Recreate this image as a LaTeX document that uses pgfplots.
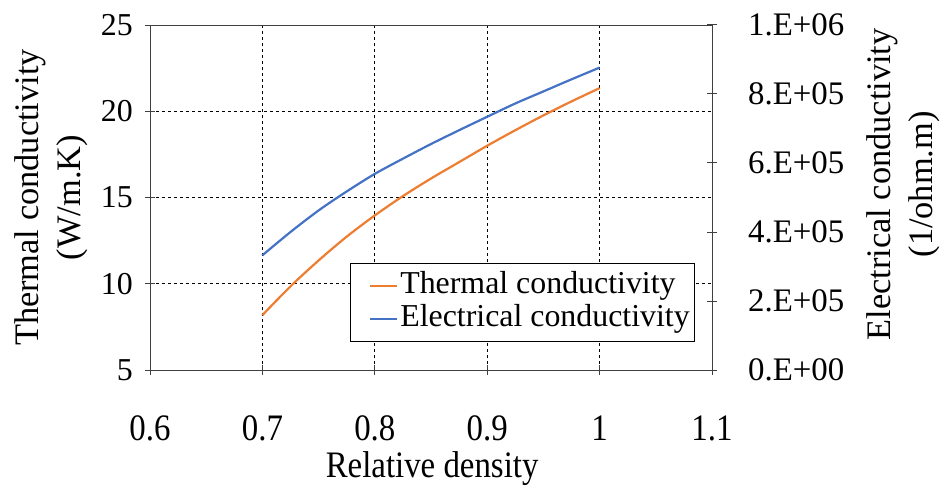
\documentclass[border=0pt]{standalone}
\usepackage{pgfplots}
\pgfplotsset{compat=1.18}
\usepackage{fontspec}
\setmainfont{Liberation Serif}
\newfontfamily\xfam[FakeStretch=0.88]{Liberation Serif}
\definecolor{orng}{HTML}{ED7D31}
\definecolor{blu}{HTML}{4472C4}
\definecolor{axgray}{HTML}{404040}
\newcommand{\xf}{\xfam\fontsize{37.5}{44}\selectfont}
\newcommand{\ylf}{\fontsize{32}{38}\selectfont}
\newcommand{\yrf}{\fontsize{33}{38}\selectfont}
\newcommand{\lf}{\fontsize{34.5}{42}\selectfont}
\newcommand{\gf}{\fontsize{32}{33}\selectfont}
\begin{document}
\begin{tikzpicture}
\useasboundingbox (-150bp,-122bp) rectangle (796bp,370bp);
\pgfplotsset{every axis/.append style={scale only axis, width=562bp, height=345bp,
  at={(0,0)}, anchor=south west, xmin=0.6, xmax=1.1,
  tick align=center, major tick length=10bp,
  axis line style={axgray, line width=1pt}, tick style={axgray, line width=1pt},
  /pgf/number format/assume math mode=true}}
\begin{axis}[
  ymin=5, ymax=25, ytick={5,10,15,20,25},
  xtick={0.6,0.7,0.8,0.9,1.0,1.1},
  xticklabels={0.6,0.7,0.8,0.9,1,1.1},
  xtick pos=bottom, ytick pos=left,
  grid=major, grid style={black, line width=0.9pt, dash pattern=on 3bp off 3bp},
  xticklabel style={font=\xf, anchor=center, inner sep=0pt, yshift=-53bp},
  yticklabel style={font=\ylf, anchor=east, inner sep=0pt, xshift=-12bp},
  xlabel={Relative density},
  xlabel style={font=\xf, at={(axis description cs:0.502,-0.287)}, anchor=center, inner sep=0pt},
  ylabel={Thermal conductivity\\(W/m.K)},
  ylabel style={font=\lf, align=center, at={(axis description cs:-0.176,0.5)}, anchor=center, inner sep=0pt},
  legend style={draw=black, line width=0.8pt, at={(0.970,0.081)}, anchor=south east, font=\gf,
    inner xsep=3bp, inner ysep=6bp, row sep=0bp,
    nodes={inner sep=2bp, text height=22bp, text depth=7bp}},
  legend cell align=left,
  legend image code/.code={\path (-16bp,0bp); \draw[#1] (0bp,0bp) -- (27bp,0bp);},
]
\addlegendimage{orng, line width=2.2bp}
\addlegendentry{Thermal conductivity}
\addlegendimage{blu, line width=2.2bp}
\addlegendentry{Electrical conductivity}
\addplot[orng, line width=2.2bp, smooth, forget plot] coordinates {
(0.700,8.18) (0.725,9.85) (0.750,11.35) (0.775,12.73) (0.800,13.96)
(0.825,15.08) (0.850,16.10) (0.875,17.05) (0.900,18.00) (0.925,18.90)
(0.950,19.76) (0.975,20.57) (1.000,21.34)};
\end{axis}
\begin{axis}[
  ymin=0, ymax=1000000,
  axis x line=none, axis y line*=right,
  ytick={0,200000,400000,600000,800000,1000000},
  yticklabels={0.E+00,2.E+05,4.E+05,6.E+05,8.E+05,1.E+06},
  scaled y ticks=false,
  yticklabel style={font=\yrf, anchor=west, inner sep=0pt, xshift=31bp},
  ylabel={Electrical conductivity\\(1/ohm.m)},
  ylabel style={font=\lf, align=center, at={(axis description cs:1.340,0.538)}, anchor=center, inner sep=0pt},
]
\addplot[blu, line width=2.2bp, smooth] coordinates {
(0.700,332500) (0.725,400000) (0.750,462500) (0.775,517500) (0.800,568500)
(0.825,612500) (0.850,655000) (0.875,695000) (0.900,734000) (0.925,772500)
(0.950,807500) (0.975,842500) (1.000,876500)};
\end{axis}
\end{tikzpicture}
\end{document}
